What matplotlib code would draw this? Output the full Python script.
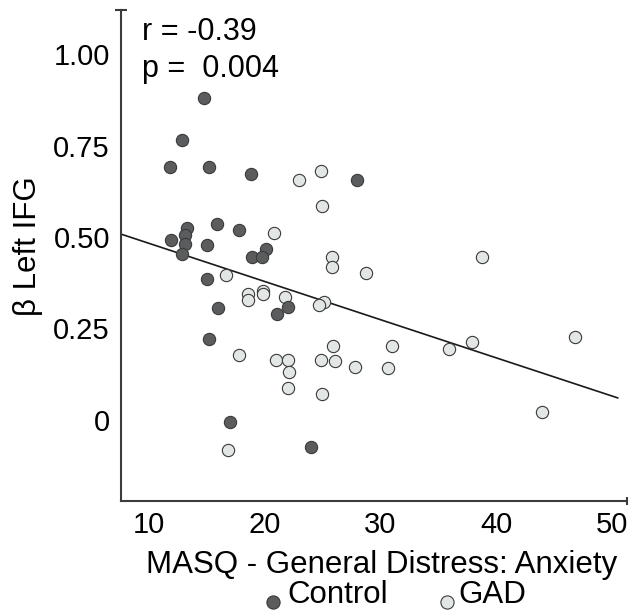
"""Scatter of beta (left IFG) vs MASQ General Distress: Anxiety, Control vs GAD."""

import matplotlib

matplotlib.use("Agg")
import matplotlib.pyplot as plt
from matplotlib.lines import Line2D

plt.rcParams["font.family"] = ["Liberation Sans", "DejaVu Sans"]

# Control group (dark markers)
control_x = [14.8, 12.9, 11.8, 15.2, 18.8, 28.0, 13.3, 15.9, 17.8, 11.9, 13.1, 13.1,
             15.0, 20.1, 18.9, 19.8, 12.9, 15.0, 16.0, 22.0, 21.1, 15.2, 17.0, 24.0]
control_y = [0.880, 0.765, 0.692, 0.692, 0.672, 0.655, 0.525, 0.536, 0.520, 0.493,
             0.505, 0.480, 0.479, 0.468, 0.445, 0.445, 0.454, 0.384, 0.305, 0.310,
             0.289, 0.220, -0.005, -0.075]

# GAD group (light markers)
gad_x = [23.0, 24.9, 25.0, 20.8, 16.7, 18.6, 18.6, 19.9, 19.9, 21.8, 25.8, 25.8,
         28.8, 38.8, 25.1, 24.7, 25.9, 31.0, 17.8, 21.0, 22.0, 24.9, 26.1, 27.8,
         30.7, 22.1, 22.0, 25.0, 16.8, 35.9, 37.9, 46.8, 44.0]
gad_y = [0.655, 0.681, 0.585, 0.510, 0.396, 0.345, 0.327, 0.353, 0.344, 0.337,
         0.446, 0.417, 0.402, 0.445, 0.322, 0.313, 0.202, 0.202, 0.177, 0.165,
         0.165, 0.165, 0.162, 0.145, 0.143, 0.131, 0.086, 0.071, -0.083, 0.193,
         0.212, 0.227, 0.021]

# regression line end points
fit_x = [7.6, 50.5]
fit_y = [0.508, 0.060]

x_ticks = [10, 20, 30, 40, 50]
y_ticks = [0, 0.25, 0.5, 0.75, 1.0]
y_tick_labels = ["0", "0.25", "0.50", "0.75", "1.00"]

DARK = "#5a5c5e"
LIGHT = "#e2e6e4"
EDGE = "#3a3a3a"
AXIS = "#3c3c3c"

fig = plt.figure(figsize=(6.32, 6.13), dpi=100)
ax = fig.add_axes([0.1915, 0.1827, 0.8005, 0.801])

ax.plot(fit_x, fit_y, color="#1a1a1a", lw=1.2, zorder=2)
ax.scatter(gad_x, gad_y, s=78, c=LIGHT, edgecolors=EDGE, linewidths=0.8, zorder=3)
ax.scatter(control_x, control_y, s=78, c=DARK, edgecolors=EDGE, linewidths=0.8, zorder=4)

ax.set_xlim(7.6, 51.3)
ax.set_ylim(-0.222, 1.121)

for side in ("top", "right"):
    ax.spines[side].set_visible(False)
for side in ("left", "bottom"):
    ax.spines[side].set_color(AXIS)
    ax.spines[side].set_linewidth(1.5)

# end caps on the axis lines
ax.plot([0], [1], marker="_", ms=8, mew=1.5, color=AXIS, transform=ax.transAxes, clip_on=False)
ax.plot([1], [0], marker="|", ms=6, mew=1.5, color=AXIS, transform=ax.transAxes, clip_on=False)

ax.set_xticks(x_ticks)
ax.set_yticks(y_ticks, y_tick_labels)
ax.tick_params(axis="both", length=0, labelsize=21, colors="black")
ax.tick_params(axis="y", pad=8)
ax.tick_params(axis="x", pad=7)

ax.set_xlabel("MASQ - General Distress: Anxiety", fontsize=22.5)
ax.xaxis.set_label_coords(0.515, -0.147)
ax.xaxis.label.set_verticalalignment("baseline")
ax.set_ylabel("β Left IFG", fontsize=22.5)
ax.yaxis.set_label_coords(-0.184, 0.519)
ax.yaxis.label.set_verticalalignment("center")

ax.text(0.0415, 0.939, "r = -0.39", transform=ax.transAxes, fontsize=22, va="baseline")
ax.text(0.0415, 0.864, "p =  0.004", transform=ax.transAxes, fontsize=22, va="baseline")

# legend row under the x label
fig.add_artist(Line2D([273 / 632], [0.0185], marker="o", ms=9.5, mfc=DARK, mec=EDGE,
                      mew=0.8, transform=fig.transFigure))
fig.text(287 / 632, 0.0158, "Control", fontsize=22.5, va="baseline")
fig.add_artist(Line2D([447 / 632], [0.0185], marker="o", ms=9.5, mfc=LIGHT, mec=EDGE,
                      mew=0.8, transform=fig.transFigure))
fig.text(458 / 632, 0.0158, "GAD", fontsize=22.5, va="baseline")

fig.savefig("out.png", dpi=100)
